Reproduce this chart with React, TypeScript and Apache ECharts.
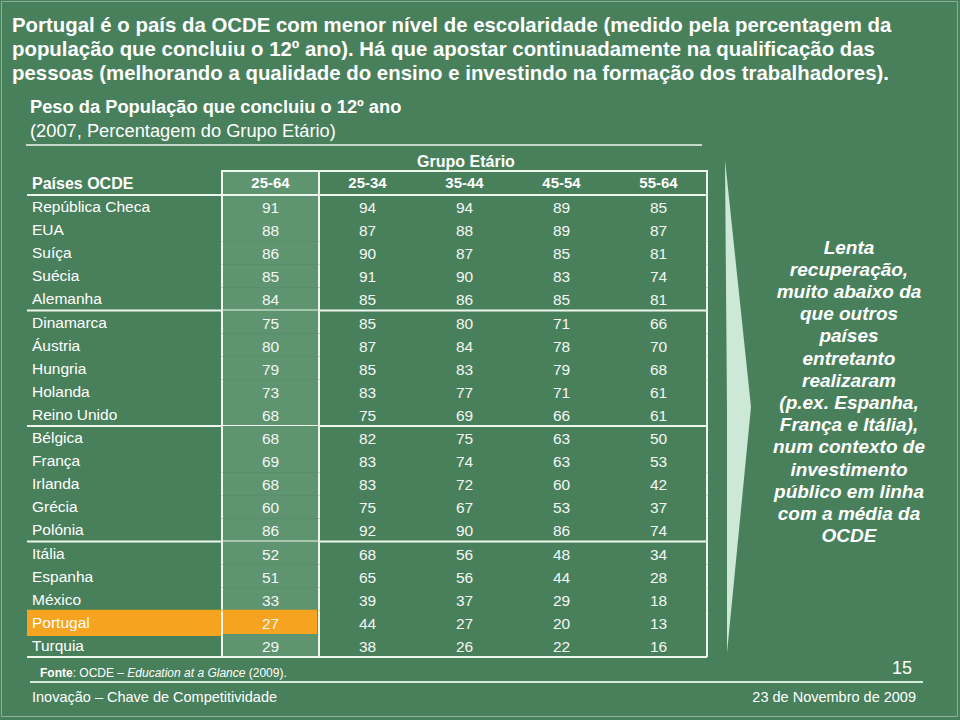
import React, { useEffect, useRef } from "react";
import * as echarts from "echarts";

const countries = [
  "República Checa", "EUA", "Suíça", "Suécia", "Alemanha",
  "Dinamarca", "Áustria", "Hungria", "Holanda", "Reino Unido",
  "Bélgica", "França", "Irlanda", "Grécia", "Polónia",
  "Itália", "Espanha", "México", "Portugal", "Turquia",
];
const ageGroups = ["25-64", "25-34", "35-44", "45-54", "55-64"];
const v25_64 = [91, 88, 86, 85, 84, 75, 80, 79, 73, 68, 68, 69, 68, 60, 86, 52, 51, 33, 27, 29];
const v25_34 = [94, 87, 90, 91, 85, 85, 87, 85, 83, 75, 82, 83, 83, 75, 92, 68, 65, 39, 44, 38];
const v35_44 = [94, 88, 87, 90, 86, 80, 84, 83, 77, 69, 75, 74, 72, 67, 90, 56, 56, 37, 27, 26];
const v45_54 = [89, 89, 85, 83, 85, 71, 78, 79, 71, 66, 63, 63, 60, 53, 86, 48, 44, 29, 20, 22];
const v55_64 = [85, 87, 81, 74, 81, 66, 70, 68, 61, 61, 50, 53, 42, 37, 74, 34, 28, 18, 13, 16];
const highlighted = "Portugal";
const groupSize = 5;

const titleLines = [
  "Portugal é o país da OCDE com menor nível de escolaridade (medido pela percentagem da",
  "população que concluiu o 12º ano). Há que apostar continuadamente na qualificação das",
  "pessoas (melhorando a qualidade do ensino e investindo na formação dos trabalhadores).",
];
const subtitle = "Peso da População que concluiu o 12º ano";
const subtitle2 = "(2007, Percentagem do Grupo Etário)";
const noteLines = [
  "Lenta", "recuperação,", "muito abaixo da", "que outros", "países", "entretanto",
  "realizaram", "(p.ex. Espanha,", "França e Itália),", "num contexto de",
  "investimento", "público em linha", "com a média da", "OCDE",
];

const FONT = '"Liberation Sans", Arial, sans-serif';
const BG = "#49805c";
const SHADE = "#5e9470";
const ORANGE = "#f6a31f";
const LINE = "#eef6ee";

export default function App() {
  const ref = useRef<HTMLDivElement>(null);
  useEffect(() => {
    if (!ref.current) return;
    const chart = echarts.init(ref.current, null, { renderer: "svg" });
    const columns = [v25_64, v25_34, v35_44, v45_54, v55_64];
    const data: number[][] = [];
    columns.forEach((col, c) => col.forEach((v, r) => data.push([c, r, v])));

    const renderItem = (params: any, api: any) => {
      const col = api.value(0);
      const row = api.value(1);
      const val = api.value(2);
      const c = api.coord([col, row]);
      const s = api.size([1, 1]);
      const w = s[0], h = s[1];
      const x0 = c[0] - w / 2, x1 = c[0] + w / 2, y0 = c[1] - h / 2, y1 = c[1] + h / 2;
      const left = params.coordSys.x - 195;
      const headerH = 24;
      const children: any[] = [];
      const lineStyle = { stroke: LINE, lineWidth: 2 };
      if (col === 0) {
        children.push({ type: "rect", shape: { x: x0, y: y0, width: w, height: h }, style: { fill: SHADE } });
        if (row === 0) {
          children.push({ type: "rect", shape: { x: x0, y: y0 - headerH, width: w, height: headerH }, style: { fill: SHADE } });
        }
        if (countries[row] === highlighted) {
          children.push({ type: "rect", shape: { x: left, y: y0 - 1, width: x1 - left - 2, height: h + 3 }, style: { fill: ORANGE } });
        }
      }
      children.push({
        type: "text",
        style: { text: String(val), x: c[0], y: c[1] + 1, align: "center", verticalAlign: "middle", fill: "#f4f7f4", font: `15.5px ${FONT}` },
      });
      const top = row === 0 ? y0 - headerH : y0;
      if (col === 0) {
        children.push({ type: "line", shape: { x1: x0, y1: top, x2: x0, y2: y1 }, style: lineStyle });
        children.push({ type: "line", shape: { x1: x1, y1: top, x2: x1, y2: y1 }, style: lineStyle });
      }
      if (col === columns.length - 1) {
        children.push({ type: "line", shape: { x1: x1, y1: top, x2: x1, y2: y1 }, style: lineStyle });
      }
      const lx = col === 0 ? left : x0;
      if (row === 0) {
        children.push({ type: "line", shape: { x1: lx, y1: y0, x2: x1, y2: y0 }, style: lineStyle });
        children.push({ type: "line", shape: { x1: x0 - 1, y1: y0 - headerH, x2: x1 + 1, y2: y0 - headerH }, style: lineStyle });
      }
      if ((row + 1) % groupSize === 0) {
        children.push({ type: "line", shape: { x1: lx, y1: y1, x2: x1, y2: y1 }, style: lineStyle });
      }
      return { type: "group", children };
    };

    const noteTop = 236;
    const noteLH = 22.2;

    chart.setOption({
      animation: false,
      backgroundColor: BG,
      grid: { left: 222, right: 253, top: 195, bottom: 63, containLabel: false, outerBoundsMode: "none" },
      xAxis: {
        type: "category",
        data: ageGroups,
        position: "top",
        z: 10,
        axisLine: { show: false },
        axisTick: { show: false },
        splitLine: { show: false },
        axisLabel: { color: "#ffffff", fontWeight: "bold", fontSize: 15, fontFamily: FONT, margin: 5 },
      },
      yAxis: {
        type: "category",
        data: countries,
        inverse: true,
        z: 10,
        axisLine: { show: false },
        axisTick: { show: false },
        splitLine: { show: false },
        axisLabel: { color: "#ffffff", fontSize: 15.5, fontFamily: FONT, align: "left", margin: 190 },
      },
      series: [
        {
          type: "custom",
          renderItem,
          data,
          encode: { x: 0, y: 1 },
          z: 2,
        },
      ],
      graphic: [
        { type: "rect", shape: { x: 1.5, y: 1.5, width: 956, height: 715 }, style: { fill: "none", stroke: "#8fae98", lineWidth: 1 }, z: 0 },
        {
          type: "text", x: 12, y: 13,
          style: { text: titleLines.join("\n"), fill: "#ffffff", font: `bold 20.4px ${FONT}`, lineHeight: 24, verticalAlign: "top" },
        },
        { type: "text", x: 30, y: 106, style: { text: subtitle, fill: "#ffffff", font: `bold 18.3px ${FONT}`, verticalAlign: "middle" } },
        { type: "text", x: 30, y: 130, style: { text: subtitle2, fill: "#ffffff", font: `18.3px ${FONT}`, verticalAlign: "middle" } },
        { type: "line", shape: { x1: 26, y1: 145, x2: 702, y2: 145 }, style: { stroke: LINE, lineWidth: 1.5 } },
        { type: "text", x: 466, y: 161, style: { text: "Grupo Etário", fill: "#ffffff", font: `bold 16px ${FONT}`, align: "center", verticalAlign: "middle" } },
        { type: "text", x: 32, y: 183, style: { text: "Países OCDE", fill: "#ffffff", font: `bold 16px ${FONT}`, verticalAlign: "middle" } },
        { type: "polygon", shape: { points: [[725, 160], [751, 407], [727, 653], [727, 407]] }, style: { fill: "#cde8d6" } },
        {
          type: "text", x: 849, y: noteTop,
          style: { text: noteLines.join("\n"), fill: "#ffffff", font: `italic bold 19px ${FONT}`, lineHeight: noteLH, align: "center", verticalAlign: "top" },
        },
        {
          type: "text", x: 40, y: 673,
          style: {
            text: "{b|Fonte}: OCDE – {i|Education at a Glance} (2009).",
            fill: "#ffffff", font: `12px ${FONT}`, verticalAlign: "middle",
            rich: {
              b: { fontWeight: "bold", fontSize: 12, fontFamily: FONT, fill: "#ffffff" },
              i: { fontStyle: "italic", fontSize: 12, fontFamily: FONT, fill: "#ffffff" },
            },
          },
        },
        { type: "line", shape: { x1: 30, y1: 682, x2: 923, y2: 682 }, style: { stroke: "#d3eedb", lineWidth: 2 } },
        { type: "text", x: 912, y: 668, style: { text: "15", fill: "#ffffff", font: `18px ${FONT}`, align: "right", verticalAlign: "middle" } },
        { type: "text", x: 32, y: 697, style: { text: "Inovação – Chave de Competitividade", fill: "#ffffff", font: `14.5px ${FONT}`, verticalAlign: "middle" } },
        { type: "text", x: 916, y: 697, style: { text: "23 de Novembro de 2009", fill: "#ffffff", font: `14.5px ${FONT}`, align: "right", verticalAlign: "middle" } },
      ],
    });
    return () => chart.dispose();
  }, []);
  return <div ref={ref} style={{ position: "absolute", left: 0, top: 0, width: 960, height: 720 }} />;
}
